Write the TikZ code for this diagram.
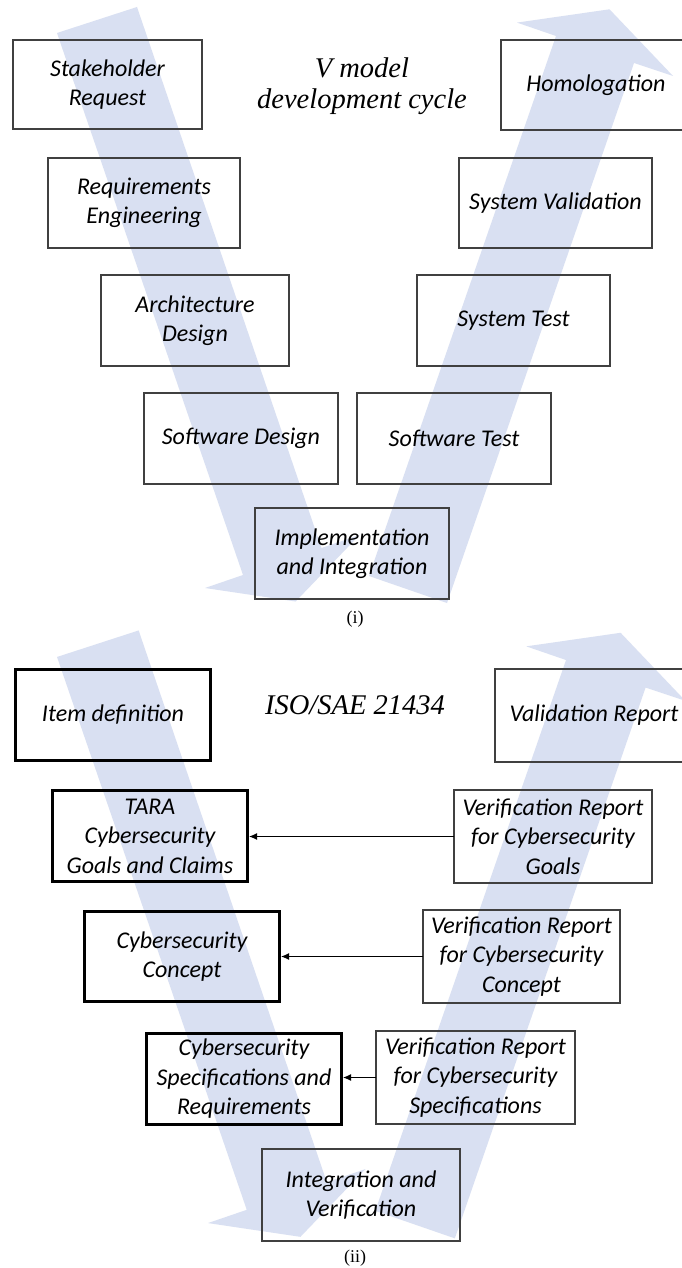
\documentclass[tikz,border=0pt]{standalone}
\usepackage{fontspec}
\setmainfont{Liberation Serif}
\newfontfamily\boxfont{Carlito}
\usetikzlibrary{arrows.meta}
\definecolor{bandblue}{RGB}{217,224,242}
\definecolor{boxline}{RGB}{64,64,64}
\begin{document}
\begin{tikzpicture}[x=1pt,y=-1pt,
  vbox/.style 2 args={draw=boxline, line width=1.1pt, inner sep=0pt, outer sep=0pt,
    minimum width=#1pt, minimum height=#2pt, align=center,
    font=\boxfont\itshape\fontsize{24}{29.5}\selectfont},
  tbox/.style 2 args={vbox={#1}{#2}, draw=black, line width=3pt, outer sep=1.5pt},
  bandfill/.style={fill=bandblue, draw=none},
  ttl/.style={font=\itshape\fontsize{28.5}{31}\selectfont, align=center, inner sep=0pt},
  capt/.style={font=\fontsize{18}{20}\selectfont, inner sep=0pt},
  feed/.style={-{Latex[length=8pt,width=7pt]}, line width=1.1pt}
]
\fill[white] (0,0) rectangle (681,1268);
\useasboundingbox (0,0) rectangle (681,1268);

% ---------- (i) bands ----------
\fill[bandfill] (57,33) -- (137,7) -- (321.5,548) -- (359.5,535) -- (295.6,601.5) -- (205,588) -- (243,575) -- cycle;
\fill[bandfill] (369,576) -- (447,603) -- (634,63) -- (673,76) -- (609.5,9.3) -- (517,22.6) -- (556,36) -- cycle;

% ---------- (ii) bands ----------
\begin{scope}[shift={(-1.1,623.3)}, scale=1.02]
\fill[bandfill] (57,33) -- (137,7) -- (321.5,548) -- (359.5,535) -- (295.6,601.5) -- (205,588) -- (243,575) -- cycle;
\fill[bandfill] (369,576) -- (447,603) -- (634,63) -- (673,76) -- (609.5,9.3) -- (517,22.6) -- (556,36) -- cycle;
\end{scope}

% ---------- (i) boxes ----------
\node[vbox={189}{89}] (sr) at (107.5,84.5) {Stakeholder\\Request};
\node[vbox={192}{90}] (re) at (144,203) {Requirements\\Engineering};
\node[vbox={188}{91}] (ad) at (195,320.5) {Architecture\\Design};
\node[vbox={194}{91}] (sd) at (241,438.5) {Software Design};
\node[vbox={194}{91}] (ii) at (352,553.5) {Implementation\\and Integration};
\node[vbox={194}{91}] (swt) at (454,438.5) {Software Test};
\node[vbox={193}{91}] (syt) at (513.5,320.5) {System Test};
\node[vbox={193}{90}] (sv) at (555.5,203) {System Validation};
\node[vbox={190}{90}] (ho) at (596,85) {Homologation};
\node[ttl] (t1) at (362,86) {V model\\development cycle};
\node[capt] (c1) at (355,619) {(i)};

% ---------- (ii) boxes ----------
\node[tbox={195}{91}] (id) at (113,715) {Item definition};
\node[tbox={195}{91}] (tara) at (150,836) {TARA\\Cybersecurity\\Goals and Claims};
\node[tbox={195}{90}] (cc) at (182,956.5) {Cybersecurity\\Concept};
\node[tbox={195}{91}] (csr) at (244,1079) {Cybersecurity\\Specifications and\\Requirements};
\node[vbox={198}{92}] (iv) at (361,1195) {Integration and\\Verification};
\node[vbox={199}{93}] (vrs) at (475.5,1077.5) {Verification Report\\for Cybersecurity\\Specifications};
\node[vbox={197}{93}] (vrc) at (521.5,956.5) {Verification Report\\for Cybersecurity\\Concept};
\node[vbox={198}{93}] (vrg) at (553,836.5) {Verification Report\\for Cybersecurity\\Goals};
\node[vbox={198}{93}] (vr) at (594,715.5) {Validation Report};
\node[ttl, anchor=base] (t2) at (355,714) {ISO/SAE 21434};
\node[capt] (c2) at (355,1258) {(ii)};

% ---------- connectors ----------
\draw[feed] (vrg.west) -- (vrg.west -| tara.east);
\draw[feed] (vrc.west) -- (vrc.west -| cc.east);
\draw[feed] (vrs.west) -- (vrs.west -| csr.east);
\end{tikzpicture}
\end{document}
